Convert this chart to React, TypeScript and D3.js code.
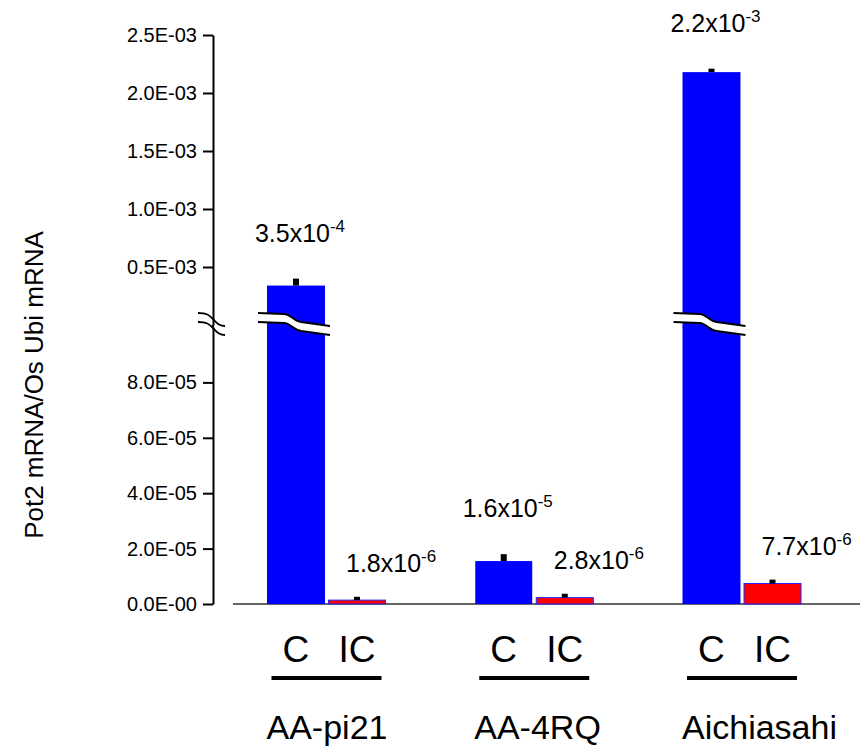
import React, { useEffect, useRef } from 'react';
import * as d3 from 'd3';

// data
const groups = ['AA-pi21', 'AA-4RQ', 'Aichiasahi'];
const treatments = ['C', 'IC'];
const valuesC = [3.4e-4, 1.55e-5, 2.18e-3];
const valuesIC = [1.4e-6, 2.3e-6, 7.4e-6];
const errorsC = [6e-5, 2.5e-6, 3e-5];
const errorsIC = [1.2e-6, 1.4e-6, 1.4e-6];
const labelMantC = ['3.5', '1.6', '2.2'];
const labelExpC = ['-4', '-5', '-3'];
const labelMantIC = ['1.8', '2.8', '7.7'];
const labelExpIC = ['-6', '-6', '-6'];

const upperTicks = [0.5e-3, 1.0e-3, 1.5e-3, 2.0e-3, 2.5e-3];
const upperTickLabels = ['0.5E-03', '1.0E-03', '1.5E-03', '2.0E-03', '2.5E-03'];
const lowerTicks = [0, 2e-5, 4e-5, 6e-5, 8e-5];
const lowerTickLabels = ['0.0E-00', '2.0E-05', '4.0E-05', '6.0E-05', '8.0E-05'];
const breakValue = 1e-4;

const FONT = '"Liberation Sans", Arial, sans-serif';

export default function App() {
  const ref = useRef<SVGSVGElement>(null);

  useEffect(() => {
    if (!ref.current) return;
    const svg = d3.select(ref.current);
    svg.selectAll('*').remove();

    const width = 860;
    const axisX = 213;

    const yHigh = d3.scaleLinear().domain([0, 2.5e-3]).range([325, 35]);
    const yLow = d3.scaleLinear().domain([0, breakValue]).range([604, 327]);

    const xGroup = d3.scalePoint<string>().domain(groups).range([326.5, 742]);
    const xInner = d3.scaleBand<string>().domain(treatments).range([-59.5, 59.5]).paddingInner(0.05);
    const bw = xInner.bandwidth();

    const yOf = (v: number) => (v > breakValue ? yHigh(v) : yLow(v));

    // 1) AXES
    const upper = svg.append('g')
      .attr('transform', `translate(${axisX},0)`)
      .call(
        d3.axisLeft(yHigh)
          .tickValues(upperTicks)
          .tickFormat((_d, i) => upperTickLabels[i])
          .tickSize(10)
          .tickSizeOuter(0)
          .tickPadding(6)
      );
    const lower = svg.append('g')
      .attr('transform', `translate(${axisX},0)`)
      .call(
        d3.axisLeft(yLow)
          .tickValues(lowerTicks)
          .tickFormat((_d, i) => lowerTickLabels[i])
          .tickSize(10)
          .tickSizeOuter(0)
          .tickPadding(6)
      );
    [upper, lower].forEach(g => {
      g.select('.domain').attr('stroke', '#000').attr('stroke-width', 2);
      g.selectAll('.tick line').attr('stroke', '#000').attr('stroke-width', 2);
      g.selectAll('.tick text')
        .attr('font-family', FONT)
        .attr('font-size', 20)
        .attr('fill', '#000');
    });
    // fill the tiny gap between the two axis segments
    svg.append('line')
      .attr('x1', axisX).attr('x2', axisX)
      .attr('y1', yHigh(0)).attr('y2', yLow(breakValue))
      .attr('stroke', '#000').attr('stroke-width', 2);

    // axis break marks
    const axisBreak = (y: number) =>
      `M${axisX - 15},${y} C${axisX - 6},${y} ${axisX - 4},${y + 2} ${axisX},${y + 6} S${axisX + 6},${y + 13} ${axisX + 12},${y + 13}`;
    [313, 322].forEach(y => {
      svg.append('path')
        .attr('d', axisBreak(y))
        .attr('fill', 'none')
        .attr('stroke', '#000')
        .attr('stroke-width', 1.8);
    });

    // baseline
    svg.append('line')
      .attr('x1', 233).attr('x2', width)
      .attr('y1', yLow(0)).attr('y2', yLow(0))
      .attr('stroke', '#333').attr('stroke-width', 1.5);

    // 2) BARS
    groups.forEach((g, gi) => {
      const cx = xGroup(g)!;
      const series = [
        { t: 'C', v: valuesC[gi], e: errorsC[gi], fill: '#0000ff', stroke: 'none' },
        { t: 'IC', v: valuesIC[gi], e: errorsIC[gi], fill: '#ff0000', stroke: '#2222ff' },
      ];
      series.forEach(s => {
        const x0 = cx + xInner(s.t)!;
        if (s.v > breakValue) {
          svg.append('rect')
            .attr('x', x0).attr('width', bw)
            .attr('y', yLow(breakValue)).attr('height', yLow(0) - yLow(breakValue))
            .attr('fill', s.fill);
          svg.append('rect')
            .attr('x', x0).attr('width', bw)
            .attr('y', yHigh(s.v)).attr('height', yHigh(0) - yHigh(s.v) + 3)
            .attr('fill', s.fill);
        } else {
          svg.append('rect')
            .attr('x', x0 + 0.5).attr('width', bw - 1)
            .attr('y', yLow(s.v)).attr('height', yLow(0) - yLow(s.v))
            .attr('fill', s.fill)
            .attr('stroke', s.stroke)
            .attr('stroke-width', s.stroke === 'none' ? 0 : 1);
        }
        // error bar
        const top = yOf(s.v + s.e);
        svg.append('rect')
          .attr('x', x0 + bw / 2 - 3).attr('width', 6)
          .attr('y', top).attr('height', yOf(s.v) - top)
          .attr('fill', '#000');

        // bar break
        if (s.v > breakValue) {
          const bx0 = x0 - 9;
          const bx1 = x0 + bw + 5;
          const mid = x0 + bw / 2 - 2;
          const curve = (y: number) =>
            `M${bx0},${y} L${mid - 10},${y + 1} C${mid - 3},${y + 1.5} ${mid},${y + 8} ${mid + 7},${y + 9} L${bx1},${y + 13}`;
          const upperC = curve(313);
          const lowerC = curve(322);
          svg.append('path')
            .attr('d', `${upperC} L${bx1},${335} L${mid + 7},${331} C${mid},${330} ${mid - 3},${323.5} ${mid - 10},${323} L${bx0},${322} Z`)
            .attr('fill', '#fff');
          [upperC, lowerC].forEach(d => {
            svg.append('path')
              .attr('d', d)
              .attr('fill', 'none')
              .attr('stroke', '#000')
              .attr('stroke-width', 1.8);
          });
        }
      });

      // 3) VALUE LABELS
      const cC = cx + xInner('C')! + bw / 2;
      const tC = svg.append('text')
        .attr('x', cC + 4)
        .attr('y', yOf(valuesC[gi] + errorsC[gi]) - 37)
        .attr('text-anchor', 'middle')
        .attr('font-family', FONT)
        .attr('font-size', 25)
        .attr('fill', '#000');
      tC.append('tspan').text(`${labelMantC[gi]}x10`);
      tC.append('tspan').attr('dy', -10).attr('font-size', 17).text(labelExpC[gi]);

      const xIC = cx + xInner('IC')!;
      const tI = svg.append('text')
        .attr('x', xIC + 18)
        .attr('y', yOf(valuesIC[gi] + errorsIC[gi]) - 25)
        .attr('font-family', FONT)
        .attr('font-size', 25)
        .attr('fill', '#000');
      tI.append('tspan').text(`${labelMantIC[gi]}x10`);
      tI.append('tspan').attr('dy', -10).attr('font-size', 17).text(labelExpIC[gi]);

      // 4) CATEGORY LABELS
      treatments.forEach(t => {
        svg.append('text')
          .attr('x', cx + xInner(t)! + bw / 2)
          .attr('y', 662)
          .attr('text-anchor', 'middle')
          .attr('font-family', FONT)
          .attr('font-size', 37)
          .attr('fill', '#000')
          .text(t);
      });
      svg.append('rect')
        .attr('x', cx - 55).attr('width', 110)
        .attr('y', 676).attr('height', 4)
        .attr('fill', '#000');
      svg.append('text')
        .attr('x', cx - 60)
        .attr('y', 739)
        .attr('font-family', FONT)
        .attr('font-size', 34)
        .attr('fill', '#000')
        .text(g);
    });

    // y axis title
    svg.append('text')
      .attr('transform', `translate(43,385) rotate(-90)`)
      .attr('text-anchor', 'middle')
      .attr('font-family', FONT)
      .attr('font-size', 26)
      .attr('fill', '#000')
      .text('Pot2 mRNA/Os Ubi mRNA');
  }, []);

  return (
    <svg
      ref={ref}
      width={860}
      height={750}
      style={{ position: 'absolute', left: 0, top: 0, background: '#fff' }}
    />
  );
}
